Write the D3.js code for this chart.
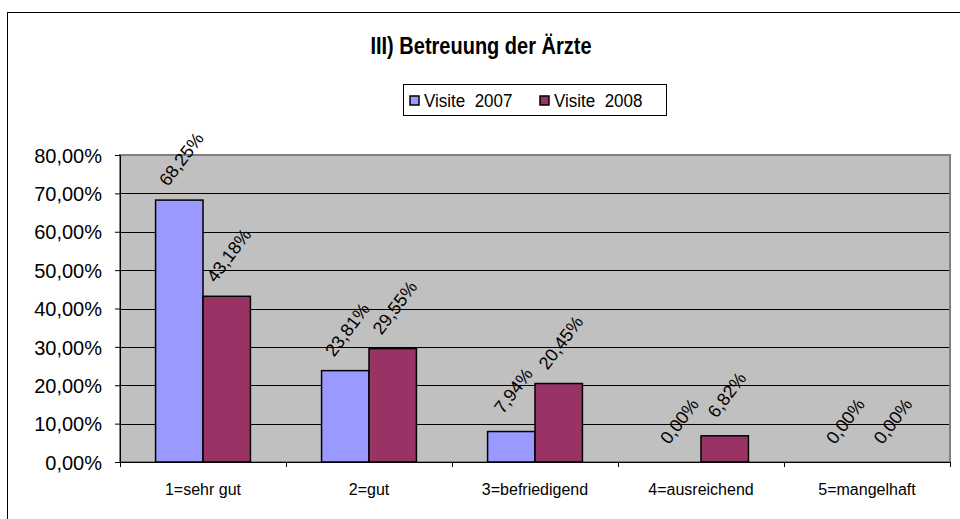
<!DOCTYPE html>
<html><head><meta charset="utf-8">
<script src="https://cdn.jsdelivr.net/npm/d3@7"></script>
<style>body{margin:0;background:#fff}svg{display:block}text{font-family:Arial,"Liberation Sans",sans-serif;fill:#000}</style>
</head><body>
<svg id="c" width="960" height="519"></svg>
<script>
const categories = ["1=sehr gut","2=gut","3=befriedigend","4=ausreichend","5=mangelhaft"];
const seriesNames = ["Visite  2007","Visite  2008"];
const values2007 = [0.6825,0.2381,0.0794,0.0,0.0];
const values2008 = [0.4318,0.2955,0.2045,0.0682,0.0];
const colors = ["#9999FF","#993366"];
const yTicks = [0,0.1,0.2,0.3,0.4,0.5,0.6,0.7,0.8];
const title = "III) Betreuung der Ärzte";

const series = [values2007, values2008];
const loc = d3.formatLocale({decimal:",",thousands:".",grouping:[3],currency:["","€"]});
const fmt = loc.format(".2%");

const svg = d3.select("#c");
const L=120,R=950,T=155,B=462;

// frame
svg.append("rect").attr("x",7.5).attr("y",12.5).attr("width",1000).attr("height",600)
  .attr("fill","#fff").attr("stroke","#000").attr("stroke-width",1);

svg.append("text").attr("transform","translate(481,54) scale(1,1.15)").attr("text-anchor","middle")
  .attr("font-size",20).attr("font-weight","bold").text(title);

const x = d3.scaleBand().domain(categories).range([L,R]).padding(0);
const groupW = x.bandwidth()*2/3.5;
const xs = d3.scaleBand().domain([0,1]).range([0,groupW]).padding(0);
const y = d3.scaleLinear().domain([0,0.8]).range([B,T]);

// plot area
svg.append("rect").attr("x",L).attr("y",T).attr("width",R-L).attr("height",B-T)
  .attr("fill","#C0C0C0").attr("stroke","#808080").attr("stroke-width",2);

// gridlines
svg.append("g").selectAll("line").data(yTicks.filter(t=>t>0&&t<0.8)).join("line")
  .attr("x1",L).attr("x2",R-1).attr("y1",d=>Math.round(y(d))+0.5).attr("y2",d=>Math.round(y(d))+0.5)
  .attr("stroke","#000").attr("stroke-width",1);

// y axis
const ya = svg.append("g").attr("transform",`translate(${L},0)`)
  .call(d3.axisLeft(y).tickValues(yTicks).tickFormat(fmt).tickSize(5).tickPadding(13));
ya.select(".domain").attr("stroke","#000");
ya.selectAll(".tick text").attr("font-size",20).attr("font-family","Arial, 'Liberation Sans', sans-serif").attr("dy","0.36em");

// x axis
const xa = svg.append("g").attr("transform",`translate(0,${B})`)
  .call(d3.axisBottom(x).tickSize(0).tickPadding(22));
xa.select(".domain").attr("stroke","#000");
xa.selectAll(".tick text").attr("font-size",16).attr("font-family","Arial, 'Liberation Sans', sans-serif");
svg.append("g").selectAll("line").data(categories.map(c=>x(c)).concat([R])).join("line")
  .attr("x1",d=>d+0.5).attr("x2",d=>d+0.5).attr("y1",B).attr("y2",B+5).attr("stroke","#000");

// bars
series.forEach((vals,si)=>{
  const g = svg.append("g");
  g.selectAll("rect").data(vals).join("rect")
    .attr("x",(d,i)=>x(categories[i])+(x.bandwidth()-groupW)/2+xs(si))
    .attr("y",d=>y(d)).attr("width",xs.bandwidth()).attr("height",d=>B-y(d))
    .attr("fill",colors[si]).attr("stroke","#000").attr("stroke-width",1.5);
  g.selectAll("text").data(vals).join("text")
    .attr("transform",(d,i)=>{const cx=x(categories[i])+(x.bandwidth()-groupW)/2+xs(si)+xs.bandwidth()/2+2;
      return `translate(${cx},${y(d)-41}) rotate(-53)`;})
    .attr("text-anchor","middle").attr("dy","0.35em").attr("font-size",18).text(d=>fmt(d));
});

// legend
const lg = svg.append("g");
lg.append("rect").attr("x",403.5).attr("y",84.5).attr("width",263).attr("height",31)
  .attr("fill","#fff").attr("stroke","#000");
const lx=[410,540];
seriesNames.forEach((n,i)=>{
  lg.append("rect").attr("x",lx[i]).attr("y",96).attr("width",9).attr("height",9)
    .attr("fill",colors[i]).attr("stroke","#000").attr("stroke-width",1.5);
  lg.append("text").attr("transform",`translate(${lx[i]+14},106.5) scale(1,1.12)`).attr("font-size",17).style("white-space","pre").text(n);
});
</script>
</body></html>
